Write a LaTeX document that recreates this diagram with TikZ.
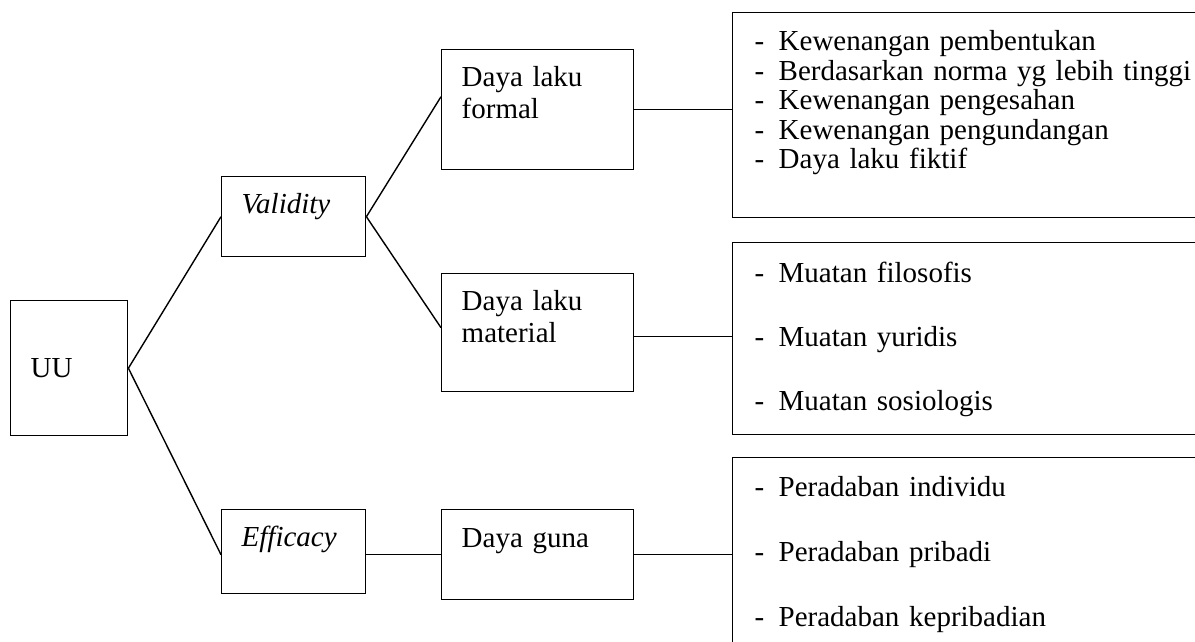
\documentclass[tikz,border=0pt]{standalone}
\usepackage{fontspec}
\setmainfont{Liberation Serif}
\tikzset{
	kasten/.style={draw, line width=0.7pt, anchor=north west, inner xsep=10pt, inner ysep=0pt, align=left, font=\fontsize{14.5}{16}\selectfont},
	liste/.style={kasten, inner xsep=11pt, text width=240pt},
	linie/.style={line width=0.7pt}
}
\newcommand{\strich}{\makebox[12pt][l]{-}}
\begin{document}
\begin{tikzpicture}[x=0.5pt,y=-0.5pt]
		\useasboundingbox (0,0) rectangle (1195,642);
		\clip (0,0) rectangle (1195,642);
		%Wurzel
		\node[kasten, text width=38.5pt, text height=38.5pt, text depth=29pt] (uu) at (10,300) {UU};
		%zweite Ebene
		\node[kasten, text width=52pt, text height=18.5pt, text depth=21.5pt] (validity) at (221,176) {\textit{Validity}};
		\node[kasten, text width=52pt, text height=18.5pt, text depth=23.5pt] (efficacy) at (221,509) {\textit{Efficacy}};
		%dritte Ebene
		\node[kasten, text width=76pt, text height=18.5pt, text depth=41.5pt] (formal) at (441,49) {Daya laku\\formal};
		\node[kasten, text width=76pt, text height=18.5pt, text depth=40.5pt] (material) at (441,273) {Daya laku\\material};
		\node[kasten, text width=76pt, text height=19pt, text depth=26pt] (guna) at (441,509) {Daya guna};
		%Listen rechts
		\node[liste, font=\fontsize{14.5}{14.75}\selectfont, text height=19pt, text depth=83.5pt] (liste1) at (732,12)
			{\strich Kewenangan pembentukan\\\strich Berdasarkan norma yg lebih tinggi\\\strich Kewenangan pengesahan\\\strich Kewenangan pengundangan\\\strich Daya laku fiktif};
		\node[liste, text height=20pt, text depth=76pt] (liste2) at (732,242)
			{\strich Muatan filosofis\\[16pt]\strich Muatan yuridis\\[16pt]\strich Muatan sosiologis};
		\node[liste, text height=19.5pt, text depth=85pt] (liste3) at (732,457)
			{\strich Peradaban individu\\[16.5pt]\strich Peradaban pribadi\\[16.5pt]\strich Peradaban kepribadian};
		%Verbindungen
		\draw[linie] (uu.east) -- (validity.west);
		\draw[linie] (uu.east) -- (guna.west -| efficacy.west);
		\draw[linie] (validity.east) -- ([yshift=6.5pt]formal.west);
		\draw[linie] (validity.east) -- ([yshift=2.5pt]material.west);
		\draw[linie] (formal.east) -- (formal.east -| liste1.west);
		\draw[linie] ([yshift=-2pt]material.east) -- ([yshift=-2pt]material.east -| liste2.west);
		\draw[linie] (guna.west -| efficacy.east) -- (guna.west);
		\draw[linie] (guna.east) -- (guna.east -| liste3.west);
\end{tikzpicture}
\end{document}
